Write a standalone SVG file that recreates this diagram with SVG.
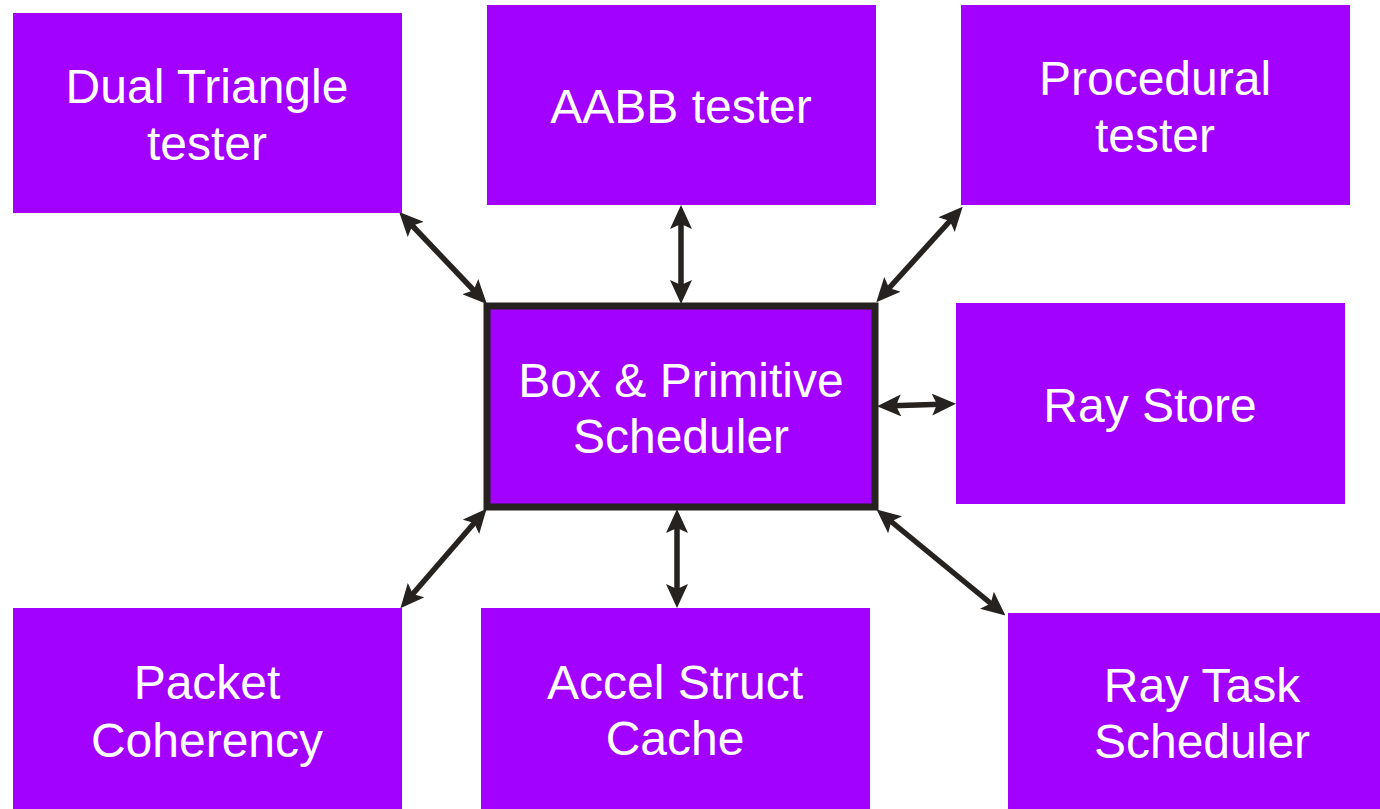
<svg xmlns="http://www.w3.org/2000/svg" width="1380" height="809" viewBox="0 0 1380 809">
  <style>
    .box { fill: #A200FF; }
    .hub { fill: #A200FF; stroke: #252220; stroke-width: 7; }
    .lbl { fill: #FFFFFF; font-family: "Liberation Sans", Arial, sans-serif; font-size: 48px; text-anchor: middle; }
    .link { stroke: #252220; stroke-width: 5.5; fill: none; marker-start: url(#head); marker-end: url(#head); }
  </style>
  <defs>
    <!-- double-ended arrowhead, tip sits 6px past the line end -->
    <marker id="head" viewBox="0 0 24 22" refX="17" refY="11" markerWidth="24" markerHeight="22" markerUnits="userSpaceOnUse" orient="auto-start-reverse">
      <path d="M0,0 L24,11 L0,22 L5,11 z" fill="#252220"/>
    </marker>
  </defs>
  <rect width="1380" height="809" fill="#FFFFFF"/>

  <g id="connectors">
    <line class="link" x1="404" y1="217" x2="482" y2="299"/>
    <line class="link" x1="681" y1="212" x2="681" y2="297"/>
    <line class="link" x1="958" y1="212" x2="881" y2="297"/>
    <line class="link" x1="884" y1="406" x2="949" y2="404"/>
    <line class="link" x1="482" y1="514" x2="405" y2="603"/>
    <line class="link" x1="677" y1="516" x2="677" y2="601"/>
    <line class="link" x1="882" y1="514" x2="1000" y2="611"/>
  </g>

  <g id="dual-triangle-tester">
    <rect class="box" x="13" y="13" width="389" height="200"/>
    <text class="lbl" x="207" y="103">Dual Triangle</text>
    <text class="lbl" x="207" y="160">tester</text>
  </g>

  <g id="aabb-tester">
    <rect class="box" x="487" y="5" width="389" height="200"/>
    <text class="lbl" x="681" y="123">AABB tester</text>
  </g>

  <g id="procedural-tester">
    <rect class="box" x="961" y="5" width="389" height="200"/>
    <text class="lbl" x="1155" y="95">Procedural</text>
    <text class="lbl" x="1155" y="152">tester</text>
  </g>

  <g id="box-primitive-scheduler">
    <rect class="hub" x="487" y="306" width="388" height="201"/>
    <text class="lbl" x="681" y="397">Box &amp; Primitive</text>
    <text class="lbl" x="681" y="453">Scheduler</text>
  </g>

  <g id="ray-store">
    <rect class="box" x="956" y="303" width="389" height="201"/>
    <text class="lbl" x="1150" y="422">Ray Store</text>
  </g>

  <g id="packet-coherency">
    <rect class="box" x="13" y="608" width="389" height="201"/>
    <text class="lbl" x="207" y="699">Packet</text>
    <text class="lbl" x="207" y="757">Coherency</text>
  </g>

  <g id="accel-struct-cache">
    <rect class="box" x="481" y="608" width="389" height="201"/>
    <text class="lbl" x="675" y="699">Accel Struct</text>
    <text class="lbl" x="675" y="755">Cache</text>
  </g>

  <g id="ray-task-scheduler">
    <rect class="box" x="1008" y="613" width="389" height="196"/>
    <text class="lbl" x="1202" y="702">Ray Task</text>
    <text class="lbl" x="1202" y="758">Scheduler</text>
  </g>
</svg>
